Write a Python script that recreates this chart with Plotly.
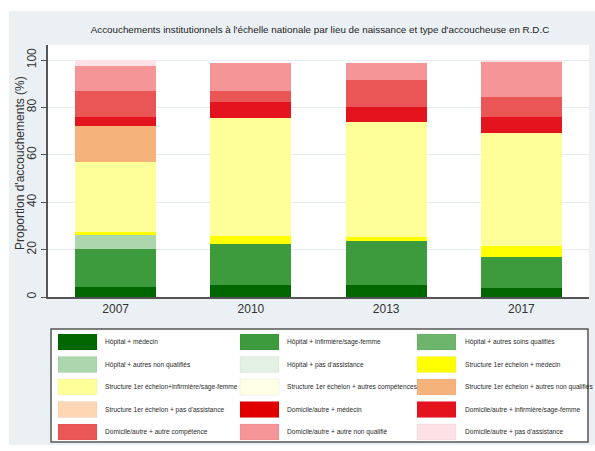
import plotly.graph_objects as go

years = ["2007", "2010", "2013", "2017"]

series_names = [
    "Hôpital + médecin",
    "Hôpital + infirmière/sage-femme",
    "Hôpital + autres soins qualifiés",
    "Hôpital + autres non qualifiés",
    "Hôpital + pas d'assistance",
    "Structure 1er échelon + médecin",
    "Structure 1er échelon+infirmière/sage-femme",
    "Structure 1er échelon + autres compétences",
    "Structure 1er échelon + autres non qualifiés",
    "Structure 1er échelon + pas d'assistance",
    "Domicile/autre + médecin",
    "Domicile/autre + infirmière/sage-femme",
    "Domicile/autre + autre compétence",
    "Domicile/autre + autre non qualifié",
    "Domicile/autre + pas d'assistance",
]

series_colors = [
    "#006600", "#3d9a3d", "#6db56d", "#acd6ac", "#e3f1e3",
    "#ffff00", "#ffff99", "#ffffe6", "#f5b27b", "#fdd6b3",
    "#e00000", "#e3141e", "#ea5555", "#f59597", "#fde1e4",
]

# values (%) per year: 2007, 2010, 2013, 2017
hop_medecin        = [4.1, 5.1, 5.1, 3.7]
hop_infirmiere     = [16.2, 17.3, 18.5, 13.3]
hop_autres_qual    = [0.0, 0.0, 0.0, 0.0]
hop_non_qual       = [5.9, 0.0, 0.0, 0.0]
hop_pas_assist     = [0.0, 0.0, 0.0, 0.0]
str_medecin        = [1.4, 3.3, 1.6, 4.5]
str_infirmiere     = [29.5, 50.0, 48.5, 47.6]
str_autres_comp    = [0.0, 0.0, 0.0, 0.0]
str_non_qual       = [15.1, 0.0, 0.0, 0.0]
str_pas_assist     = [0.0, 0.0, 0.0, 0.0]
dom_medecin        = [0.0, 0.0, 0.0, 0.0]
dom_infirmiere     = [3.9, 6.4, 6.6, 6.7]
dom_autre_comp     = [10.9, 4.9, 11.3, 8.7]
dom_non_qual       = [10.5, 11.6, 7.3, 14.8]
dom_pas_assist     = [2.3, 0.0, 0.0, 0.8]

series_values = [
    hop_medecin, hop_infirmiere, hop_autres_qual, hop_non_qual, hop_pas_assist,
    str_medecin, str_infirmiere, str_autres_comp, str_non_qual, str_pas_assist,
    dom_medecin, dom_infirmiere, dom_autre_comp, dom_non_qual, dom_pas_assist,
]

y_ticks = [0, 20, 40, 60, 80, 100]

title_text = "Accouchements institutionnels à l'échelle nationale par lieu de naissance et type d'accoucheuse en R.D.C"
y_title = "Proportion d'accouchements (%)"

# ---- layout geometry (pixels) ----
W, H = 595, 451
ML, MR, MT, MB = 48, 6, 45, 154
PW = W - ML - MR
PH = H - MT - MB


def px2x(px):
    return (px - ML) / PW


def px2y(py):
    return (H - MB - py) / PH


FONT = "Liberation Sans, Arial, sans-serif"

fig = go.Figure()
for name, color, vals in zip(series_names, series_colors, series_values):
    fig.add_trace(go.Bar(
        x=years, y=vals, name=name,
        marker=dict(color=color, line=dict(width=0)),
        showlegend=False,
    ))

shapes = [
    # outer light panel
    dict(type="rect", xref="paper", yref="paper", layer="below",
         x0=px2x(9), x1=px2x(596), y0=px2y(445), y1=px2y(11),
         fillcolor="#eaf0f3", line=dict(width=0)),
    # white plot region
    dict(type="rect", xref="paper", yref="paper", layer="below",
         x0=0, x1=px2x(589), y0=0, y1=1,
         fillcolor="white", line=dict(width=0)),
    # legend box
    dict(type="rect", xref="paper", yref="paper", layer="below",
         x0=px2x(51), x1=px2x(588), y0=px2y(442), y1=px2y(329),
         fillcolor="white", line=dict(color="#555555", width=1.5)),
]

annotations = [
    dict(text=y_title, xref="paper", yref="paper", x=px2x(20), y=px2y(163),
         textangle=-90, showarrow=False, xanchor="center", yanchor="middle",
         font=dict(family=FONT, size=12, color="#333333")),
]

col_sw = [58, 240, 417]
col_tx = [103, 285, 463]
row_y = [342, 364.5, 387, 409.5, 432]
for i, (name, color) in enumerate(zip(series_names, series_colors)):
    r, c = divmod(i, 3)
    cy = row_y[r]
    shapes.append(dict(type="rect", xref="paper", yref="paper", layer="below",
                       x0=px2x(col_sw[c]), x1=px2x(col_sw[c] + 39),
                       y0=px2y(cy + 8), y1=px2y(cy - 8),
                       fillcolor=color, line=dict(color="rgba(0,0,0,0.08)", width=0.5)))
    annotations.append(dict(text=name, xref="paper", yref="paper",
                            x=px2x(col_tx[c]), y=px2y(cy), showarrow=False,
                            xanchor="left", yanchor="middle",
                            font=dict(family=FONT, size=6.6, color="#2a2a2a")))

fig.update_layout(
    width=W, height=H,
    margin=dict(l=ML, r=MR, t=MT, b=MB),
    barmode="stack", bargap=0.4,
    plot_bgcolor="white", paper_bgcolor="white",
    title=dict(text=title_text, x=(320) / W, xanchor="center",
               y=1 - 30 / H, yanchor="middle",
               font=dict(family=FONT, size=9.8, color="#222222")),
    shapes=shapes, annotations=annotations,
    font=dict(family=FONT),
)

fig.update_xaxes(
    type="category", showline=True, linecolor="#555555", linewidth=1.5,
    ticks="", tickfont=dict(family=FONT, size=12, color="#333333"),
    showgrid=False,
)
fig.update_yaxes(
    range=[0, (H - MB - MT) / 2.37], tickvals=y_ticks, tickangle=-90,
    showline=True, linecolor="#555555", linewidth=1.5,
    ticks="outside", ticklen=5, tickcolor="#555555",
    tickfont=dict(family=FONT, size=12, color="#333333"),
    showgrid=True, gridcolor="#e6edf1", gridwidth=1, zeroline=False,
)

fig.write_html("out.html", config={"displayModeBar": False},
               post_script="document.body.style.margin='0';")
